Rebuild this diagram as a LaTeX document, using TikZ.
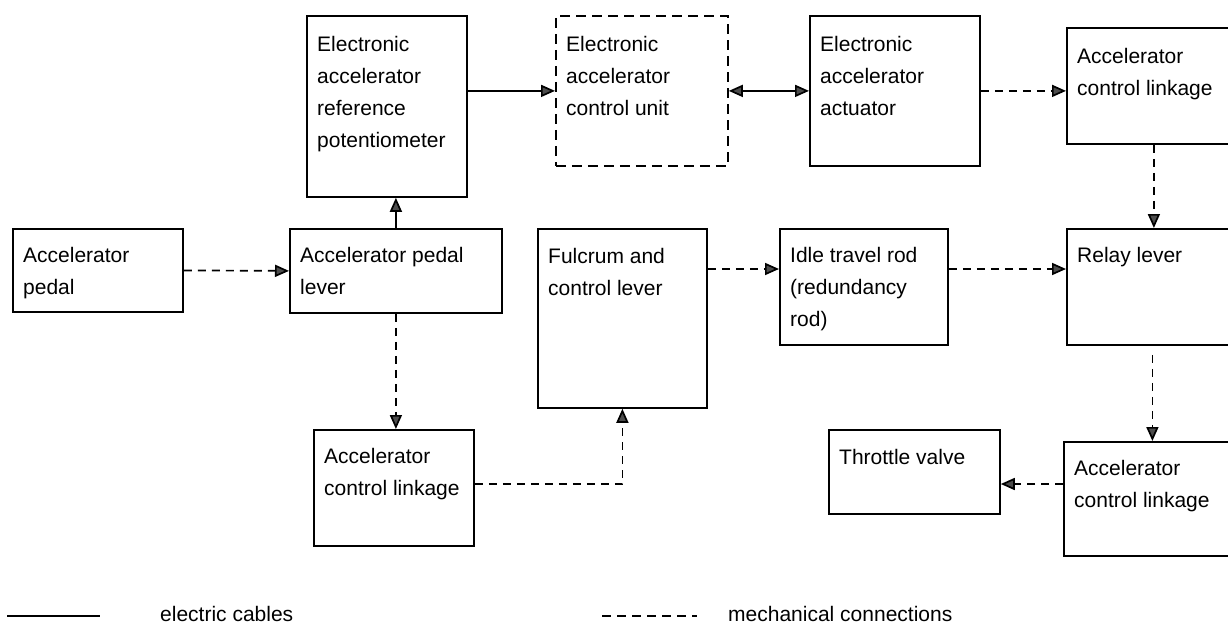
\documentclass[tikz,border=0pt]{standalone}
\usepackage{fontspec}
\setmainfont{Liberation Sans}
\usetikzlibrary{arrows.meta}
\tikzset{
  unit/.style={draw, line width=1.8pt, inner sep=0pt, anchor=north west},
  lbl/.style={anchor=north west, inner sep=0pt, align=left,
    font=\fontsize{21}{32}\selectfont},
  elec/.style={line width=1.7pt, -{Triangle[length=14pt,width=12pt,fill=black!70]}},
  mech/.style={elec, dash pattern=on 8pt off 6pt},
}
\begin{document}
\begin{tikzpicture}[x=1pt,y=-1pt]
  \useasboundingbox (0,0) rectangle (1228,625);
  % boxes
  \node[unit, minimum width=170pt, minimum height=83pt] (pedal) at (12,228) {};
  \node[unit, minimum width=212pt, minimum height=84pt] (lever) at (289,228) {};
  \node[unit, minimum width=160pt, minimum height=181pt] (pot) at (306,15) {};
  \node[unit, dash pattern=on 10pt off 6pt, minimum width=172pt, minimum height=150pt] (ecu) at (555,15) {};
  \node[unit, minimum width=170pt, minimum height=150pt] (act) at (809,15) {};
  \node[unit, minimum width=174pt, minimum height=116pt] (tlink) at (1066,27) {};
  \node[unit, minimum width=169pt, minimum height=179pt] (fulcrum) at (537,228) {};
  \node[unit, minimum width=168pt, minimum height=116pt] (idle) at (779,228) {};
  \node[unit, minimum width=174pt, minimum height=116pt] (relay) at (1066,228) {};
  \node[unit, minimum width=160pt, minimum height=116pt] (blink) at (313,429) {};
  \node[unit, minimum width=171pt, minimum height=84pt] (throttle) at (828,429) {};
  \node[unit, minimum width=177pt, minimum height=114pt] (brlink) at (1063,441) {};

  % texts
  \node[lbl] (pedal-t) at ([shift={(11,19)}]pedal.north west) {Accelerator\\pedal};
  \node[lbl] (lever-t) at ([shift={(11,19)}]lever.north west) {Accelerator pedal\\lever};
  \node[lbl] (pot-t) at ([shift={(11,21)}]pot.north west) {Electronic\\accelerator\\reference\\potentiometer};
  \node[lbl] (ecu-t) at ([shift={(11,21)}]ecu.north west) {Electronic\\accelerator\\control unit};
  \node[lbl] (act-t) at ([shift={(11,21)}]act.north west) {Electronic\\accelerator\\actuator};
  \node[lbl] (tlink-t) at ([shift={(11,21)}]tlink.north west) {Accelerator\\control linkage};
  \node[lbl] (fulcrum-t) at ([shift={(11,20)}]fulcrum.north west) {Fulcrum and\\control lever};
  \node[lbl] (idle-t) at ([shift={(11,19)}]idle.north west) {Idle travel rod\\(redundancy\\rod)};
  \node[lbl] (relay-t) at ([shift={(11,19)}]relay.north west) {Relay lever};
  \node[lbl] (blink-t) at ([shift={(11,19)}]blink.north west) {Accelerator\\control linkage};
  \node[lbl] (throttle-t) at ([shift={(11,20)}]throttle.north west) {Throttle valve};
  \node[lbl] (brlink-t) at ([shift={(11,19)}]brlink.north west) {Accelerator\\control linkage};

  % connections
  \coordinate (row) at (0,269);
  \coordinate (low) at (0,484);
  \draw[mech] (pedal.east) -- (lever.west);
  \draw[elec] (lever.north) -- (lever.north |- pot.south);
  \draw[elec] (pot.east |- ecu.west) -- (ecu.west);
  \draw[elec, {Triangle[length=14pt,width=12pt,fill=black!70]}-{Triangle[length=14pt,width=12pt,fill=black!70]}] (ecu.east) -- (act.west);
  \draw[mech] (act.east) -- (act.east -| tlink.west);
  \draw[mech] (tlink.south) -- (tlink.south |- relay.north);
  \draw[mech] (lever.south) -- (lever.south |- blink.north);
  \draw[mech] (blink.east |- low) -| (fulcrum.south);
  \draw[mech] (fulcrum.east |- row) -- (idle.west |- row);
  \draw[mech] (idle.east |- row) -- (relay.west |- row);
  \draw[mech] (brlink.north |- relay.south) ++(0,9) -- (brlink.north);
  \draw[mech] (brlink.west |- low) -- (throttle.east |- low);

  % legend
  \draw[line width=1.7pt] (7,616) -- (100,616);
  \node[lbl, anchor=base west] (leg-e) at (160,621) {electric cables};
  \draw[line width=1.7pt, dash pattern=on 9pt off 6pt] (602,616) -- (697,616);
  \node[lbl, anchor=base west] (leg-m) at (728,621) {mechanical connections};
\end{tikzpicture}
\end{document}
